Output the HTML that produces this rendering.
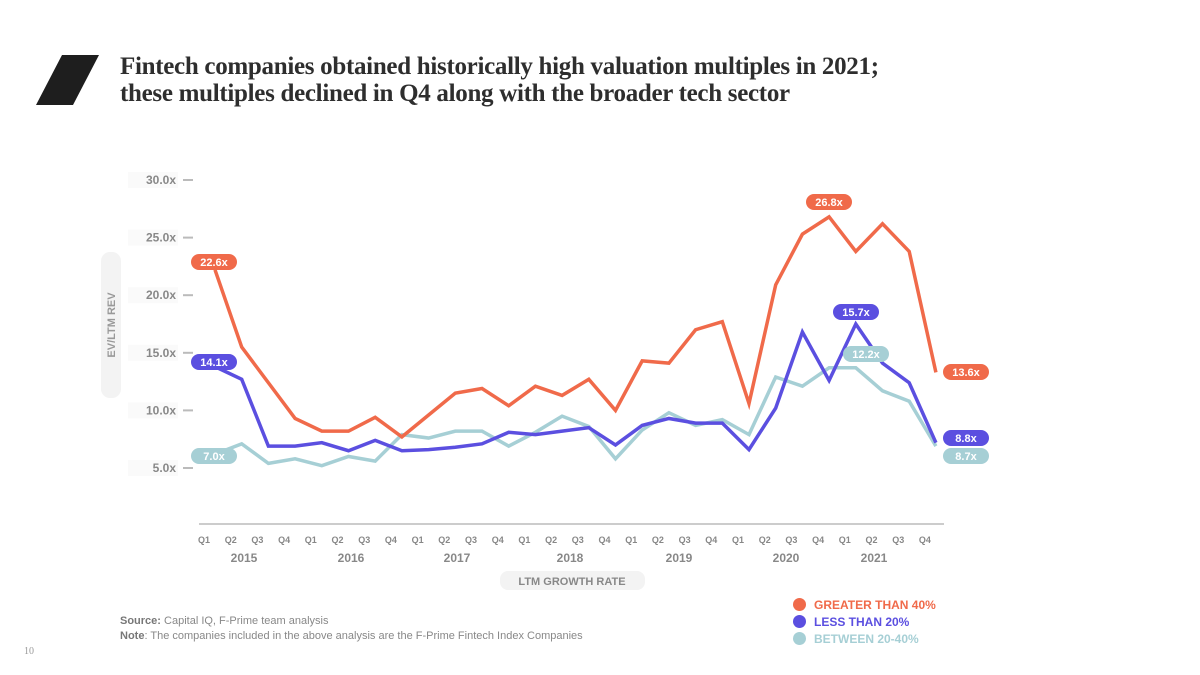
<!DOCTYPE html>
<html><head><meta charset="utf-8"><style>
body{margin:0;background:#fff;}
#root{position:relative;width:1200px;height:675px;overflow:hidden;background:#fff;font-family:"Liberation Sans",sans-serif;}
.title{position:absolute;left:120px;top:53px;font-family:"Liberation Serif",serif;font-weight:bold;font-size:25px;line-height:27px;color:#2e2e2e;letter-spacing:-0.3px;white-space:nowrap;}
.src{position:absolute;left:120px;font-size:11px;color:#888;}
.src b{color:#777;}
.leg{position:absolute;left:793px;font-size:12px;font-weight:bold;}
.leg span{display:inline-block;width:13px;height:13px;border-radius:50%;vertical-align:-2px;margin-right:8px;}
</style></head><body>
<div id="root">
<svg style="position:absolute;left:36px;top:55px" width="64" height="50"><polygon points="26,0 63,0 37,50 0,50" fill="#1e1e1e"/></svg>
<div class="title">Fintech companies obtained historically high valuation multiples in 2021;<br>these multiples declined in Q4 along with the broader tech sector</div>
<svg id="chart" style="position:absolute;left:0;top:0" width="1200" height="675"></svg>
<div class="src" style="top:615px"><b>Source:</b> Capital IQ, F-Prime team analysis</div>
<div class="src" style="top:630px"><b>Note</b>: The companies included in the above analysis are the F-Prime Fintech Index Companies</div>
<div style="position:absolute;left:24px;top:646px;font-size:10px;color:#999;font-family:'Liberation Serif',serif">10</div>
<div class="leg" style="top:598px;color:#f06a4a"><span style="background:#f06a4a"></span>GREATER THAN 40%</div>
<div class="leg" style="top:615px;color:#5b4fe0"><span style="background:#5b4fe0"></span>LESS THAN 20%</div>
<div class="leg" style="top:632px;color:#a6cfd5"><span style="background:#a6cfd5"></span>BETWEEN 20-40%</div>
</div>
<script>
const quarters=["Q1","Q2","Q3","Q4","Q1","Q2","Q3","Q4","Q1","Q2","Q3","Q4","Q1","Q2","Q3","Q4","Q1","Q2","Q3","Q4","Q1","Q2","Q3","Q4","Q1","Q2","Q3","Q4"];
const years=["2015","2016","2017","2018","2019","2020","2021"];
const yTicks=[5,10,15,20,25,30];
const greater40=[22.2,15.5,12.4,9.3,8.2,8.2,9.4,7.7,9.6,11.5,11.9,10.4,12.1,11.3,12.7,10.0,14.3,14.1,17.0,17.7,10.6,20.9,25.3,26.8,23.8,26.2,23.8,13.3];
const less20=[13.8,12.7,6.9,6.9,7.2,6.5,7.4,6.5,6.6,6.8,7.1,8.1,7.9,8.2,8.5,7.0,8.7,9.3,8.9,8.9,6.6,10.2,16.8,12.6,17.5,14.1,12.4,7.2];
const between=[6.2,7.1,5.4,5.8,5.2,6.0,5.6,7.9,7.6,8.2,8.2,6.9,8.1,9.5,8.6,5.8,8.3,9.8,8.7,9.2,7.9,12.9,12.1,13.7,13.7,11.7,10.8,6.9];
const NS="http://www.w3.org/2000/svg";
const svg=document.getElementById('chart');
const X=i=>215+i*26.7;
const Y=v=>468-(v-5)*11.52;
function mk(t,a){const e=document.createElementNS(NS,t);for(const k in a)e.setAttribute(k,a[k]);svg.appendChild(e);return e;}
yTicks.forEach(v=>{
 const r=mk('rect',{x:128,y:Y(v)-8,width:50,height:16,fill:'#fafafa'});
 
 
 const t=mk('text',{x:176,y:Y(v)+4,'text-anchor':'end','font-size':12,'font-weight':'bold',fill:'#888','font-family':'Liberation Sans'});
 t.textContent=v.toFixed(1)+'x';
 
 
 const l=mk('line',{x1:183,x2:193,y1:Y(v),y2:Y(v),stroke:'#bbb','stroke-width':2});
 
 
});
const yt=mk('rect',{x:101,y:252,width:20,height:146,rx:9,fill:'#f3f3f3'});


const ytt=mk('text',{x:115,y:325,'text-anchor':'middle','font-size':11,'font-weight':'bold',fill:'#999',transform:'rotate(-90 115 325)','font-family':'Liberation Sans'});
ytt.textContent='EV/LTM REV';


const ax=mk('line',{x1:199,x2:944,y1:524,y2:524,stroke:'#ccc','stroke-width':2});


quarters.forEach((q,i)=>{
 const t=mk('text',{x:X(i)-11,y:543,'text-anchor':'middle','font-size':9,'font-weight':'bold',fill:'#888','font-family':'Liberation Sans'});
 t.textContent=q;
 
 
});
const yearX=[244,351,457,570,679,786,874];
years.forEach((y,i)=>{
 const t=mk('text',{x:yearX[i],y:562,'text-anchor':'middle','font-size':12,'font-weight':'bold',fill:'#888','font-family':'Liberation Sans'});
 t.textContent=y;
 
 
});
const xb=mk('rect',{x:500,y:571,width:145,height:19,rx:8,fill:'#f3f3f3'});


const xt=mk('text',{x:572,y:585,'text-anchor':'middle','font-size':11,'font-weight':'bold',fill:'#888','font-family':'Liberation Sans'});
xt.textContent='LTM GROWTH RATE';


function series(data,color,name){
 const p=mk('polyline',{points:data.map((v,i)=>X(i)+','+Y(v)).join(' '),fill:'none',stroke:color,'stroke-width':3.5,'stroke-linejoin':'miter'});
 
 
}
series(between,'#a6cfd5','line-between-20-40');
series(less20,'#5b4fe0','line-less-than-20');
series(greater40,'#f06a4a','line-greater-than-40');
function pill(cx,cy,txt,color,name){
 const r=mk('rect',{x:cx-23,y:cy-8,width:46,height:16,rx:8,fill:color});
 
 
 const t=mk('text',{x:cx,y:cy+4,'text-anchor':'middle','font-size':11,'font-weight':'bold',fill:'#fff','font-family':'Liberation Sans'});
 t.textContent=txt;
 
 
}
pill(214,262,'22.6x','#f06a4a','label-start-greater');
pill(214,362,'14.1x','#5b4fe0','label-start-less');
pill(214,456,'7.0x','#a6cfd5','label-start-between');
pill(829,202,'26.8x','#f06a4a','label-peak-greater');
pill(856,312,'15.7x','#5b4fe0','label-peak-less');
pill(866,354,'12.2x','#a6cfd5','label-peak-between');
pill(966,372,'13.6x','#f06a4a','label-end-greater');
pill(966,456,'8.7x','#a6cfd5','label-end-between');
pill(966,438,'8.8x','#5b4fe0','label-end-less');
</script>
</body></html>
